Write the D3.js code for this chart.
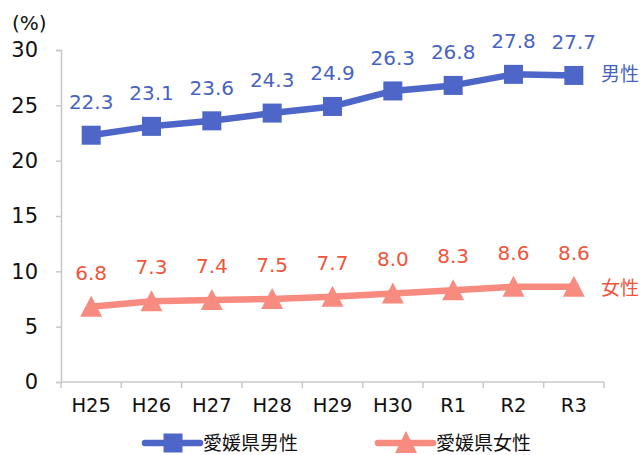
<!DOCTYPE html>
<html><head><meta charset="utf-8">
<script src="https://cdn.jsdelivr.net/npm/d3@7"></script>
<style>
html,body{margin:0;padding:0;background:#fff;}
svg{display:block;font-family:"DejaVu Sans","Noto Sans CJK JP",sans-serif;}
</style></head>
<body>
<svg id="chart" width="641" height="455"></svg>
<script>
// Years (Heisei / Reiwa) and rates in percent
const years = ["H25","H26","H27","H28","H29","H30","R1","R2","R3"];
const maleRates = [22.3,23.1,23.6,24.3,24.9,26.3,26.8,27.8,27.7];
const femaleRates = [6.8,7.3,7.4,7.5,7.7,8.0,8.3,8.6,8.6];
const yTicks = [0,5,10,15,20,25,30];
const seriesNames = ["愛媛県男性","愛媛県女性"];
const endLabels = ["男性","女性"];

const maleColor = "#4d66c8", maleText = "#4763c2";
const femaleColor = "#f88b7f", femaleText = "#f0553c";
const axisColor = "#c8c8c8";
const cjkFont = "Noto Sans CJK JP";

const svg = d3.select("#chart");
const plotLeft = 61, plotRight = 604, plotTop = 50, plotBottom = 382;

const x = d3.scaleBand().domain(years).range([plotLeft, plotRight]);
const y = d3.scaleLinear().domain([0, 30]).range([plotBottom, plotTop]);

// Y axis
const yAxis = svg.append("g").attr("transform", `translate(${plotLeft},0)`)
  .call(d3.axisLeft(y).tickValues(yTicks).tickSize(5).tickPadding(18));
yAxis.select(".domain").attr("stroke", axisColor).attr("stroke-width", 1.5);
yAxis.selectAll(".tick line").attr("stroke", axisColor).attr("stroke-width", 1.5);
yAxis.selectAll(".tick text").attr("font-size", 21).attr("fill", "#111")
  .attr("font-family", "DejaVu Sans");

// X axis with ticks at category boundaries
const xg = svg.append("g").attr("transform", `translate(0,${plotBottom})`);
xg.append("line").attr("x1", plotLeft).attr("x2", plotRight).attr("stroke", axisColor).attr("stroke-width", 1.5);
const bounds = years.map(d => x(d)).concat([plotRight]);
xg.selectAll("line.b").data(bounds).join("line").attr("class","b")
  .attr("x1", d => d).attr("x2", d => d).attr("y1", 0).attr("y2", 6)
  .attr("stroke", axisColor).attr("stroke-width", 1.5);
xg.selectAll("text").data(years).join("text")
  .attr("x", d => x(d) + x.bandwidth()/2).attr("y", 30)
  .attr("text-anchor", "middle").attr("font-size", 19.5).attr("fill", "#111").text(d => d);

svg.append("text").attr("x", 12).attr("y", 30).attr("font-size", 20).attr("fill", "#111").text("(%)");

const cx = d => x(d) + x.bandwidth()/2;
const line = d3.line().x((d,i) => cx(years[i])).y(d => y(d));

function drawSeries(vals, color, textColor, shape, labelOff) {
  svg.append("path").datum(vals).attr("d", line).attr("fill", "none")
    .attr("stroke", color).attr("stroke-width", 6.5).attr("stroke-linejoin", "round");
  const g = svg.append("g");
  vals.forEach((v, i) => {
    const px = cx(years[i]), py = y(v);
    if (shape === "square") {
      g.append("rect").attr("x", px - 9.5).attr("y", py - 9.5).attr("width", 19).attr("height", 19).attr("fill", color);
    } else {
      g.append("path").attr("d", `M${px},${py-11}L${px+11},${py+10}L${px-11},${py+10}Z`).attr("fill", color);
    }
    g.append("text").attr("x", px).attr("y", py - labelOff).attr("text-anchor", "middle")
      .attr("font-size", 20).attr("fill", textColor).text(v.toFixed(1));
  });
}
drawSeries(maleRates, maleColor, maleText, "square", 26);
drawSeries(femaleRates, femaleColor, femaleText, "triangle", 27);

// Series end labels
svg.append("text").attr("x", 601).attr("y", y(maleRates[8]) + 6).attr("font-family", cjkFont)
  .attr("font-size", 19).attr("fill", maleText).text(endLabels[0]);
svg.append("text").attr("x", 601).attr("y", y(femaleRates[8]) + 8).attr("font-family", cjkFont)
  .attr("font-size", 19).attr("fill", femaleText).text(endLabels[1]);

// Legend
const legend = [
  {name: seriesNames[0], color: maleColor, shape: "square", x0: 145},
  {name: seriesNames[1], color: femaleColor, shape: "triangle", x0: 378}
];
const ly = 443;
legend.forEach(l => {
  svg.append("line").attr("x1", l.x0).attr("x2", l.x0 + 55).attr("y1", ly).attr("y2", ly)
    .attr("stroke", l.color).attr("stroke-width", 6.5).attr("stroke-linecap", "round");
  const mx = l.x0 + 28;
  if (l.shape === "square") {
    svg.append("rect").attr("x", mx - 9.5).attr("y", ly - 9.5).attr("width", 19).attr("height", 19).attr("fill", l.color);
  } else {
    svg.append("path").attr("d", `M${mx},${ly-12}L${mx+11},${ly+10}L${mx-11},${ly+10}Z`).attr("fill", l.color);
  }
  svg.append("text").attr("x", l.x0 + 58).attr("y", ly + 7).attr("font-family", cjkFont)
    .attr("font-size", 19).attr("fill", "#111").text(l.name);
});
</script>
</body></html>
